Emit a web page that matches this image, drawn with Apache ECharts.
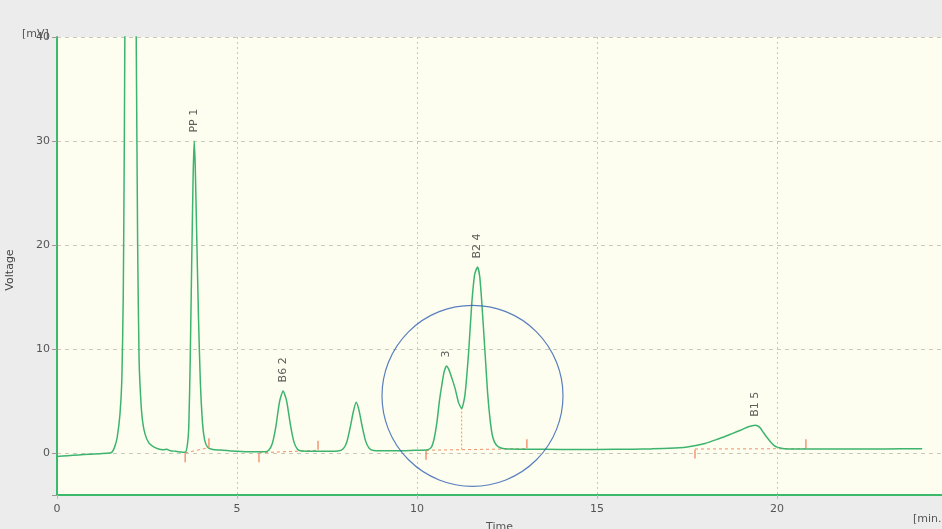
<!DOCTYPE html>
<html>
<head>
<meta charset="utf-8">
<script src="https://cdn.jsdelivr.net/npm/echarts@6/dist/echarts.min.js"></script>
<style>
html,body{margin:0;padding:0;background:#ececec;}
#chart{width:942px;height:529px;}
</style>
</head>
<body>
<div id="chart"></div>
<script>
// Chromatogram trace (time in min, voltage in mV)
const timeMin = [0.00,0.30,0.60,0.90,1.20,1.40,1.52,1.60,1.67,1.75,1.80,1.84,1.87,1.90,1.95,2.05,2.15,2.20,2.24,2.28,2.33,2.38,2.45,2.55,2.65,2.80,2.95,3.05,3.15,3.30,3.45,3.56,3.62,3.66,3.70,3.74,3.78,3.81,3.84,3.88,3.93,3.98,4.04,4.10,4.18,4.30,4.60,5.00,5.40,5.78,5.88,5.98,6.08,6.18,6.28,6.38,6.48,6.58,6.68,6.80,7.20,7.60,7.80,7.95,8.05,8.15,8.23,8.31,8.39,8.47,8.57,8.67,8.80,9.20,9.60,10.00,10.30,10.40,10.48,10.56,10.62,10.68,10.75,10.82,10.89,10.96,11.06,11.15,11.24,11.33,11.43,11.52,11.60,11.68,11.74,11.80,11.89,11.96,12.03,12.10,12.20,12.35,12.60,13.00,14.00,15.00,16.00,16.50,17.00,17.50,18.00,18.25,18.50,18.75,19.00,19.20,19.39,19.52,19.62,19.71,19.82,19.92,20.00,20.20,21.00,22.00,23.00,24.03];
const voltageMv = [-0.30,-0.22,-0.15,-0.08,-0.03,0.00,0.10,0.6,1.5,3.8,7,15,30,50,65,68,60,40,20,9,5,3,1.8,1.0,0.7,0.45,0.35,0.4,0.25,0.2,0.12,0.1,0.8,2.5,9,18,26.5,30,27.5,21,13,7,3,1.3,0.6,0.4,0.3,0.2,0.15,0.15,0.3,0.95,2.6,4.95,6.0,5.0,2.8,1.1,0.4,0.22,0.2,0.2,0.22,0.45,1.1,2.6,4.0,4.9,4.1,2.7,1.2,0.5,0.28,0.25,0.25,0.3,0.35,0.6,1.5,3.2,5.0,6.4,7.8,8.4,8.0,7.3,6.2,4.9,4.3,5.6,9.6,14.4,17.2,17.9,17.0,14.4,9.6,5.8,3.2,1.6,0.8,0.5,0.42,0.4,0.38,0.38,0.4,0.43,0.48,0.62,0.95,1.25,1.55,1.9,2.25,2.55,2.7,2.5,2.0,1.57,1.1,0.75,0.6,0.45,0.42,0.42,0.43,0.45];

// Peak annotations
const peakNames = ['PP 1','B6 2','3','B2 4','B1 5'];
const peakTimes = [3.81, 6.28, 10.82, 11.68, 19.39];
const peakHeights = [30, 6.0, 8.4, 17.9, 2.7];

// Integration baselines (start/end)
const baseStartX = [3.56, 5.61, 10.25, 17.72];
const baseStartY = [0.05, 0.05, 0.30, 0.42];
const baseEndX = [4.22, 7.25, 13.05, 20.80];
const baseEndY = [0.55, 0.30, 0.45, 0.45];

// Valley drop line between peaks 3 and 4
const valleyX = [11.24];
const valleyLow = [0.37];
const valleyHigh = [4.3];

// Highlight circle centre
const circleX = [11.54];
const circleY = [5.53];

// Axis ticks
const xTicks = [0, 5, 10, 15, 20];
const yTicks = [0, 10, 20, 30, 40];

const trace = timeMin.map((t, i) => [t, voltageMv[i]]);
const peaks = peakTimes.map((t, i) => ({ value: [t, peakHeights[i]], name: peakNames[i] }));
const startTicks = baseStartX.map((x, i) => [x, baseStartY[i]]);
const endTicks = baseEndX.map((x, i) => [x, baseEndY[i]]);
const baselineSeries = baseStartX.map((x, i) => ({
  type: 'line',
  data: [[x, baseStartY[i]], [baseEndX[i], baseEndY[i]]],
  symbol: 'none',
  silent: true,
  lineStyle: { color: '#f0906a', width: 1, type: [3, 3] },
  z: 3
}));
const valleySeries = valleyX.map((x, i) => ({
  type: 'line',
  data: [[x, valleyLow[i]], [x, valleyHigh[i]]],
  symbol: 'none',
  silent: true,
  lineStyle: { color: '#f0906a', width: 1, type: [2, 2] },
  z: 3
}));

const chart = echarts.init(document.getElementById('chart'));
const FONT = 'DejaVu Sans';
chart.setOption({
  animation: false,
  backgroundColor: '#ececec',
  textStyle: { fontFamily: FONT },
  grid: {
    left: 57, top: 37, right: 0, bottom: 34,
    outerBoundsMode: 'none',
    containLabel: false,
    show: true, backgroundColor: '#fefef0', borderWidth: 0
  },
  xAxis: {
    type: 'value',
    min: 0, max: 24.58, interval: 5,
    name: 'Time', nameLocation: 'middle', nameGap: 27,
    nameTextStyle: { color: '#555', fontSize: 11, fontFamily: FONT },
    axisLine: { show: true, onZero: false, lineStyle: { color: '#3cba6b', width: 2 } },
    axisTick: { show: true, length: 4, lineStyle: { color: '#bbb' } },
    axisLabel: {
      color: '#555', fontSize: 11, margin: 9, fontFamily: FONT,
      showMaxLabel: false,
      formatter: v => (xTicks.indexOf(v) >= 0 ? String(v) : '')
    },
    splitLine: { show: true, lineStyle: { color: '#c9c9b8', type: [2, 3], width: 1 } }
  },
  yAxis: {
    type: 'value',
    min: -4, max: 40,
    axisLine: { show: true, onZero: false, lineStyle: { color: '#3cba6b', width: 2 } },
    axisTick: { show: true, length: 5, lineStyle: { color: '#999' } },
    axisLabel: {
      color: '#555', fontSize: 11, margin: 7, fontFamily: FONT,
      formatter: v => (yTicks.indexOf(v) >= 0 ? String(v) : '')
    },
    splitLine: { show: true, lineStyle: { color: '#c9c9b8', type: [4, 4], width: 1 } }
  },
  graphic: [
    { type: 'text', left: 22, top: 29, style: { text: '[mV]', fill: '#555', font: '11px "DejaVu Sans"' } },
    { type: 'text', x: 10, y: 270, rotation: Math.PI / 2,
      style: { text: 'Voltage', fill: '#444', font: '11px "DejaVu Sans"', align: 'center', verticalAlign: 'middle' } },
    { type: 'text', left: 913, top: 514, style: { text: '[min.]', fill: '#555', font: '11px "DejaVu Sans"' } }
  ],
  series: [
    {
      type: 'line',
      data: trace,
      symbol: 'none',
      smooth: 0.2,
      clip: true,
      lineStyle: { color: '#3cb46e', width: 1.5 },
      z: 4
    },
    ...baselineSeries,
    ...valleySeries,
    {
      type: 'scatter',
      data: startTicks,
      symbol: 'rect',
      symbolSize: [1.5, 9],
      symbolOffset: [0, 5],
      itemStyle: { color: '#ef7d55' },
      silent: true,
      z: 5
    },
    {
      type: 'scatter',
      data: endTicks,
      symbol: 'rect',
      symbolSize: [1.5, 9],
      symbolOffset: [0, -5],
      itemStyle: { color: '#ef7d55' },
      silent: true,
      z: 5
    },
    {
      type: 'scatter',
      data: peaks,
      symbolSize: 1,
      itemStyle: { color: 'rgba(0,0,0,0)' },
      silent: true,
      label: {
        show: true,
        position: 'top',
        distance: 8,
        rotate: 90,
        align: 'left',
        verticalAlign: 'middle',
        formatter: p => p.name,
        color: '#333',
        fontSize: 11,
        fontFamily: FONT
      },
      z: 6
    },
    {
      type: 'scatter',
      data: circleX.map((x, i) => [x, circleY[i]]),
      symbol: 'circle',
      symbolSize: 181,
      silent: true,
      itemStyle: { color: 'rgba(0,0,0,0)', borderColor: '#2f5fb3', borderWidth: 1.2 },
      z: 7
    }
  ]
});
</script>
</body>
</html>
